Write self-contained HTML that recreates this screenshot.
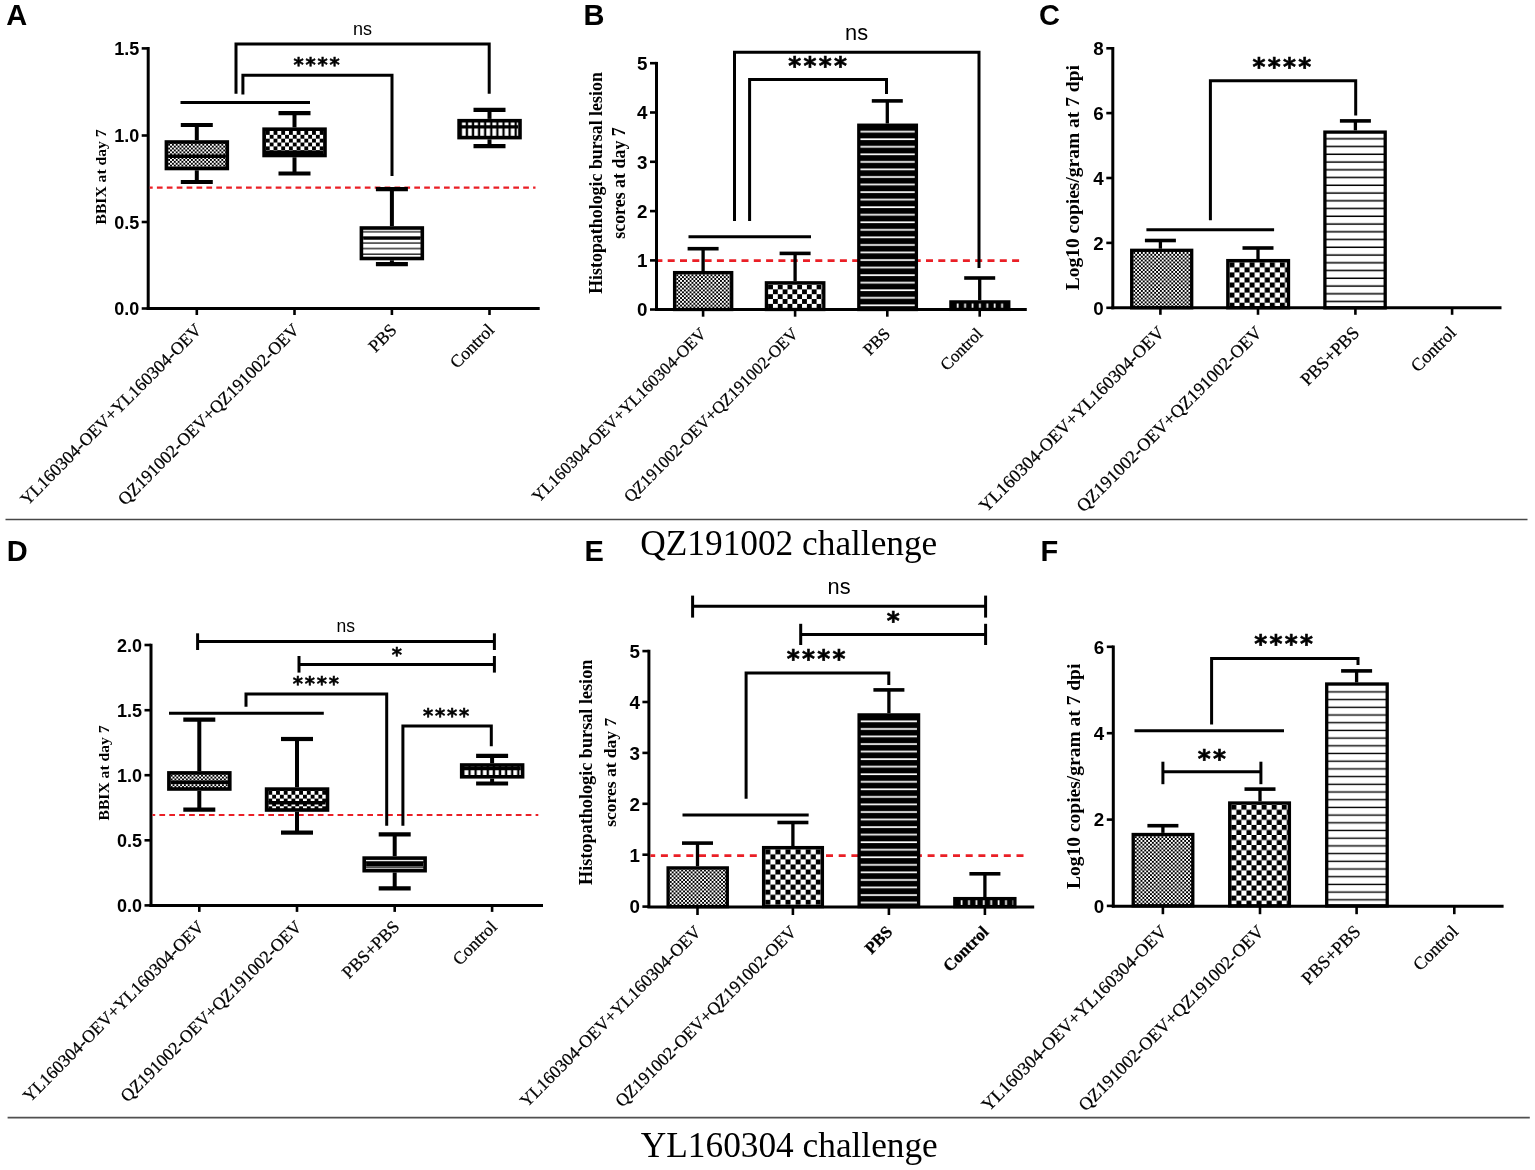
<!DOCTYPE html>
<html><head><meta charset="utf-8"><title>Figure</title>
<style>
html,body{margin:0;padding:0;background:#fff;}
body{width:1535px;height:1170px;overflow:hidden;}
svg{display:block;}
</style></head>
<body>
<svg width="1535" height="1170" viewBox="0 0 1535 1170" shape-rendering="geometricPrecision">
<rect width="1535" height="1170" fill="#fff"/>
<defs>
<pattern id="p1" width="3.8" height="3.8" patternUnits="userSpaceOnUse" patternTransform="translate(168.15,143.80)"><rect width="3.8" height="3.8" fill="#fff"/><rect x="0" y="0" width="1.9" height="1.9" fill="#000"/><rect x="1.9" y="1.9" width="1.9" height="1.9" fill="#000"/></pattern>
<pattern id="p2" width="7.7" height="7.7" patternUnits="userSpaceOnUse" patternTransform="translate(265.85,131.00)"><rect width="7.7" height="7.7" fill="#fff"/><rect x="0" y="0" width="3.85" height="3.85" fill="#000"/><rect x="3.85" y="3.85" width="3.85" height="3.85" fill="#000"/></pattern>
<pattern id="p3" width="20" height="5.6" patternUnits="userSpaceOnUse" patternTransform="translate(363.25,229.80)"><rect width="20" height="5.6" fill="#fff"/><rect x="0" y="1.40" width="20" height="1.2" fill="#000"/></pattern>
<pattern id="p4" width="6.1" height="200" patternUnits="userSpaceOnUse" patternTransform="translate(460.85,122.50)"><rect width="6.1" height="200" fill="#000"/><rect x="1.10" y="0" width="3.8" height="200" fill="#fff"/></pattern>
<pattern id="p5" width="3.8" height="3.8" patternUnits="userSpaceOnUse" patternTransform="translate(676.30,274.30)"><rect width="3.8" height="3.8" fill="#fff"/><rect x="0" y="0" width="1.9" height="1.9" fill="#000"/><rect x="1.9" y="1.9" width="1.9" height="1.9" fill="#000"/></pattern>
<pattern id="p6" width="9.7" height="9.7" patternUnits="userSpaceOnUse" patternTransform="translate(768.10,284.50)"><rect width="9.7" height="9.7" fill="#fff"/><rect x="0" y="0" width="4.85" height="4.85" fill="#000"/><rect x="4.85" y="4.85" width="4.85" height="4.85" fill="#000"/></pattern>
<pattern id="p7" width="20" height="7.55" patternUnits="userSpaceOnUse" patternTransform="translate(860.40,126.80)"><rect width="20" height="7.55" fill="#000"/><rect x="0" y="4.05" width="20" height="1.7" fill="#fff"/></pattern>
<pattern id="p8" width="7.4" height="200" patternUnits="userSpaceOnUse" patternTransform="translate(952.50,303.60)"><rect width="7.4" height="200" fill="#000"/><rect x="4.35" y="0" width="1.7" height="200" fill="#fff"/></pattern>
<pattern id="p9" width="3.8" height="3.8" patternUnits="userSpaceOnUse" patternTransform="translate(1133.30,252.00)"><rect width="3.8" height="3.8" fill="#fff"/><rect x="0" y="0" width="1.9" height="1.9" fill="#000"/><rect x="1.9" y="1.9" width="1.9" height="1.9" fill="#000"/></pattern>
<pattern id="p10" width="10.1" height="10.1" patternUnits="userSpaceOnUse" patternTransform="translate(1229.40,262.30)"><rect width="10.1" height="10.1" fill="#fff"/><rect x="0" y="0" width="5.05" height="5.05" fill="#000"/><rect x="5.05" y="5.05" width="5.05" height="5.05" fill="#000"/></pattern>
<pattern id="p11" width="20" height="7.75" patternUnits="userSpaceOnUse" patternTransform="translate(1326.50,133.70)"><rect width="20" height="7.75" fill="#fff"/><rect x="0" y="4.35" width="20" height="1.5" fill="#000"/></pattern>
<pattern id="p12" width="3.8" height="3.8" patternUnits="userSpaceOnUse" patternTransform="translate(170.65,774.70)"><rect width="3.8" height="3.8" fill="#fff"/><rect x="0" y="0" width="1.9" height="1.9" fill="#000"/><rect x="1.9" y="1.9" width="1.9" height="1.9" fill="#000"/></pattern>
<pattern id="p13" width="7.7" height="7.7" patternUnits="userSpaceOnUse" patternTransform="translate(268.35,790.90)"><rect width="7.7" height="7.7" fill="#fff"/><rect x="0" y="0" width="3.85" height="3.85" fill="#000"/><rect x="3.85" y="3.85" width="3.85" height="3.85" fill="#000"/></pattern>
<pattern id="p14" width="20" height="5.6" patternUnits="userSpaceOnUse" patternTransform="translate(366.05,859.90)"><rect width="20" height="5.6" fill="#fff"/><rect x="0" y="1.40" width="20" height="1.2" fill="#000"/></pattern>
<pattern id="p15" width="6.1" height="200" patternUnits="userSpaceOnUse" patternTransform="translate(463.45,766.80)"><rect width="6.1" height="200" fill="#000"/><rect x="1.10" y="0" width="3.8" height="200" fill="#fff"/></pattern>
<pattern id="p16" width="3.8" height="3.8" patternUnits="userSpaceOnUse" patternTransform="translate(669.80,869.60)"><rect width="3.8" height="3.8" fill="#fff"/><rect x="0" y="0" width="1.9" height="1.9" fill="#000"/><rect x="1.9" y="1.9" width="1.9" height="1.9" fill="#000"/></pattern>
<pattern id="p17" width="10.1" height="10.1" patternUnits="userSpaceOnUse" patternTransform="translate(765.30,849.30)"><rect width="10.1" height="10.1" fill="#fff"/><rect x="0" y="0" width="5.05" height="5.05" fill="#000"/><rect x="5.05" y="5.05" width="5.05" height="5.05" fill="#000"/></pattern>
<pattern id="p18" width="20" height="7.55" patternUnits="userSpaceOnUse" patternTransform="translate(860.80,716.50)"><rect width="20" height="7.55" fill="#000"/><rect x="0" y="4.05" width="20" height="1.7" fill="#fff"/></pattern>
<pattern id="p19" width="7.4" height="200" patternUnits="userSpaceOnUse" patternTransform="translate(956.40,900.30)"><rect width="7.4" height="200" fill="#000"/><rect x="4.35" y="0" width="1.7" height="200" fill="#fff"/></pattern>
<pattern id="p20" width="3.8" height="3.8" patternUnits="userSpaceOnUse" patternTransform="translate(1134.80,836.20)"><rect width="3.8" height="3.8" fill="#fff"/><rect x="0" y="0" width="1.9" height="1.9" fill="#000"/><rect x="1.9" y="1.9" width="1.9" height="1.9" fill="#000"/></pattern>
<pattern id="p21" width="10.1" height="10.1" patternUnits="userSpaceOnUse" patternTransform="translate(1231.30,804.70)"><rect width="10.1" height="10.1" fill="#fff"/><rect x="0" y="0" width="5.05" height="5.05" fill="#000"/><rect x="5.05" y="5.05" width="5.05" height="5.05" fill="#000"/></pattern>
<pattern id="p22" width="20" height="7.7" patternUnits="userSpaceOnUse" patternTransform="translate(1328.30,685.70)"><rect width="20" height="7.7" fill="#fff"/><rect x="0" y="5.50" width="20" height="1.4" fill="#000"/></pattern>
</defs>
<text x="6.3" y="24.8" font-family="'Liberation Sans', Arial, Helvetica, sans-serif" font-size="29" font-weight="bold" text-anchor="start" >A</text>
<line x1="148.2" y1="47.1" x2="148.2" y2="310.0" stroke="#000" stroke-width="3.0" />
<line x1="141.7" y1="48.4" x2="148.2" y2="48.4" stroke="#000" stroke-width="2.6" />
<text x="139.2" y="55.0" font-family="'Liberation Sans', Arial, Helvetica, sans-serif" font-size="18.0" font-weight="bold" text-anchor="end" >1.5</text>
<line x1="141.7" y1="135.5" x2="148.2" y2="135.5" stroke="#000" stroke-width="2.6" />
<text x="139.2" y="142.1" font-family="'Liberation Sans', Arial, Helvetica, sans-serif" font-size="18.0" font-weight="bold" text-anchor="end" >1.0</text>
<line x1="141.7" y1="222.0" x2="148.2" y2="222.0" stroke="#000" stroke-width="2.6" />
<text x="139.2" y="228.6" font-family="'Liberation Sans', Arial, Helvetica, sans-serif" font-size="18.0" font-weight="bold" text-anchor="end" >0.5</text>
<line x1="141.7" y1="308.5" x2="148.2" y2="308.5" stroke="#000" stroke-width="2.6" />
<text x="139.2" y="315.1" font-family="'Liberation Sans', Arial, Helvetica, sans-serif" font-size="18.0" font-weight="bold" text-anchor="end" >0.0</text>
<line x1="149.7" y1="187.7" x2="535.5" y2="187.7" stroke="#ea1f26" stroke-width="2.3" stroke-dasharray="5.7 4.2" stroke-dashoffset="2.70"/>
<line x1="196.8" y1="125.0" x2="196.8" y2="140.2" stroke="#000" stroke-width="4.0" />
<line x1="196.8" y1="170.3" x2="196.8" y2="182.0" stroke="#000" stroke-width="4.0" />
<line x1="180.8" y1="125.0" x2="212.8" y2="125.0" stroke="#000" stroke-width="4.2" />
<line x1="180.8" y1="182.0" x2="212.8" y2="182.0" stroke="#000" stroke-width="4.2" />
<rect x="166.4" y="142.0" width="60.9" height="26.5" fill="url(#p1)" stroke="#000" stroke-width="3.6"/>
<line x1="168.2" y1="156.2" x2="225.5" y2="156.2" stroke="#000" stroke-width="3.4" />
<line x1="294.5" y1="113.2" x2="294.5" y2="127.4" stroke="#000" stroke-width="4.0" />
<line x1="294.5" y1="157.3" x2="294.5" y2="173.5" stroke="#000" stroke-width="4.0" />
<line x1="278.5" y1="113.2" x2="310.5" y2="113.2" stroke="#000" stroke-width="4.2" />
<line x1="278.5" y1="173.5" x2="310.5" y2="173.5" stroke="#000" stroke-width="4.2" />
<rect x="264.1" y="129.2" width="60.9" height="26.3" fill="url(#p2)" stroke="#000" stroke-width="3.6"/>
<line x1="265.9" y1="152.3" x2="323.1" y2="152.3" stroke="#000" stroke-width="3.4" />
<line x1="391.9" y1="189.2" x2="391.9" y2="226.2" stroke="#000" stroke-width="4.0" />
<line x1="391.9" y1="260.3" x2="391.9" y2="264.2" stroke="#000" stroke-width="4.0" />
<line x1="375.9" y1="189.2" x2="407.9" y2="189.2" stroke="#000" stroke-width="4.2" />
<line x1="375.9" y1="264.2" x2="407.9" y2="264.2" stroke="#000" stroke-width="4.2" />
<rect x="361.4" y="228.0" width="60.9" height="30.5" fill="url(#p3)" stroke="#000" stroke-width="3.6"/>
<line x1="363.2" y1="238.1" x2="420.5" y2="238.1" stroke="#000" stroke-width="3.4" />
<line x1="489.5" y1="109.9" x2="489.5" y2="118.9" stroke="#000" stroke-width="4.0" />
<line x1="489.5" y1="139.4" x2="489.5" y2="146.1" stroke="#000" stroke-width="4.0" />
<line x1="473.5" y1="109.9" x2="505.5" y2="109.9" stroke="#000" stroke-width="4.2" />
<line x1="473.5" y1="146.1" x2="505.5" y2="146.1" stroke="#000" stroke-width="4.2" />
<rect x="459.1" y="120.7" width="60.9" height="16.9" fill="url(#p4)" stroke="#000" stroke-width="3.6"/>
<line x1="460.9" y1="126.9" x2="518.1" y2="126.9" stroke="#000" stroke-width="3.4" />
<line x1="146.7" y1="308.5" x2="539.7" y2="308.5" stroke="#000" stroke-width="3.0" />
<line x1="196.8" y1="308.5" x2="196.8" y2="315.0" stroke="#000" stroke-width="2.6" />
<line x1="294.5" y1="308.5" x2="294.5" y2="315.0" stroke="#000" stroke-width="2.6" />
<line x1="391.9" y1="308.5" x2="391.9" y2="315.0" stroke="#000" stroke-width="2.6" />
<line x1="489.5" y1="308.5" x2="489.5" y2="315.0" stroke="#000" stroke-width="2.6" />
<text transform="translate(106.0,177.0) rotate(-90)" x="0" y="0" font-family="'Liberation Serif', 'Times New Roman', Times, serif" font-size="15.6" font-weight="bold" text-anchor="middle">BBIX at day 7</text>
<text transform="translate(202.6,331.0) rotate(-45)" x="0" y="0" font-family="'Liberation Serif', 'Times New Roman', Times, serif" font-size="17.7" font-weight="normal" text-anchor="end" stroke="#000" stroke-width="0.25">YL160304-OEV+YL160304-OEV</text>
<text transform="translate(300.3,331.0) rotate(-45)" x="0" y="0" font-family="'Liberation Serif', 'Times New Roman', Times, serif" font-size="17.7" font-weight="normal" text-anchor="end" stroke="#000" stroke-width="0.25">QZ191002-OEV+QZ191002-OEV</text>
<text transform="translate(397.7,331.0) rotate(-45)" x="0" y="0" font-family="'Liberation Serif', 'Times New Roman', Times, serif" font-size="17.7" font-weight="normal" text-anchor="end" stroke="#000" stroke-width="0.25">PBS</text>
<text transform="translate(495.3,331.0) rotate(-45)" x="0" y="0" font-family="'Liberation Serif', 'Times New Roman', Times, serif" font-size="17.7" font-weight="normal" text-anchor="end" stroke="#000" stroke-width="0.25">Control</text>
<line x1="180.5" y1="102.6" x2="310.0" y2="102.6" stroke="#000" stroke-width="3.0" />
<polyline points="236.0,93.7 236.0,44.1 489.2,44.1 489.2,93.7" fill="none" stroke="#000" stroke-width="3.0" stroke-linejoin="miter"/>
<polyline points="242.9,94.5 242.9,75.2 392.0,75.2 392.0,176.0" fill="none" stroke="#000" stroke-width="3.0" stroke-linejoin="miter"/>
<text x="362.6" y="34.6" font-family="'Liberation Sans', Arial, Helvetica, sans-serif" font-size="18" font-weight="normal" text-anchor="middle" >ns</text>
<text x="317.5" y="70.7" font-family="'DejaVu Sans', sans-serif" font-size="19.5" font-weight="bold" text-anchor="middle" letter-spacing="1.8" stroke="#000" stroke-width="0.50">****</text>
<text x="583.6" y="24.9" font-family="'Liberation Sans', Arial, Helvetica, sans-serif" font-size="29" font-weight="bold" text-anchor="start" >B</text>
<line x1="656.5" y1="61.9" x2="656.5" y2="311.0" stroke="#000" stroke-width="3.0" />
<line x1="650.0" y1="63.2" x2="656.5" y2="63.2" stroke="#000" stroke-width="2.6" />
<text x="647.5" y="70.0" font-family="'Liberation Sans', Arial, Helvetica, sans-serif" font-size="18.8" font-weight="bold" text-anchor="end" >5</text>
<line x1="650.0" y1="112.5" x2="656.5" y2="112.5" stroke="#000" stroke-width="2.6" />
<text x="647.5" y="119.3" font-family="'Liberation Sans', Arial, Helvetica, sans-serif" font-size="18.8" font-weight="bold" text-anchor="end" >4</text>
<line x1="650.0" y1="161.8" x2="656.5" y2="161.8" stroke="#000" stroke-width="2.6" />
<text x="647.5" y="168.6" font-family="'Liberation Sans', Arial, Helvetica, sans-serif" font-size="18.8" font-weight="bold" text-anchor="end" >3</text>
<line x1="650.0" y1="211.1" x2="656.5" y2="211.1" stroke="#000" stroke-width="2.6" />
<text x="647.5" y="217.9" font-family="'Liberation Sans', Arial, Helvetica, sans-serif" font-size="18.8" font-weight="bold" text-anchor="end" >2</text>
<line x1="650.0" y1="260.4" x2="656.5" y2="260.4" stroke="#000" stroke-width="2.6" />
<text x="647.5" y="267.2" font-family="'Liberation Sans', Arial, Helvetica, sans-serif" font-size="18.8" font-weight="bold" text-anchor="end" >1</text>
<line x1="650.0" y1="309.5" x2="656.5" y2="309.5" stroke="#000" stroke-width="2.6" />
<text x="647.5" y="316.3" font-family="'Liberation Sans', Arial, Helvetica, sans-serif" font-size="18.8" font-weight="bold" text-anchor="end" >0</text>
<line x1="658.0" y1="260.6" x2="1019.7" y2="260.6" stroke="#ea1f26" stroke-width="2.8" stroke-dasharray="7 5.3" stroke-dashoffset="2.60"/>
<line x1="703.1" y1="248.7" x2="703.1" y2="271.0" stroke="#000" stroke-width="3.3" />
<line x1="687.6" y1="248.7" x2="718.6" y2="248.7" stroke="#000" stroke-width="3.6" />
<rect x="674.6" y="272.6" width="57.1" height="36.9" fill="url(#p5)" stroke="#000" stroke-width="3.3"/>
<line x1="795.1" y1="253.4" x2="795.1" y2="281.2" stroke="#000" stroke-width="3.3" />
<line x1="779.6" y1="253.4" x2="810.6" y2="253.4" stroke="#000" stroke-width="3.6" />
<rect x="766.4" y="282.8" width="57.4" height="26.7" fill="url(#p6)" stroke="#000" stroke-width="3.3"/>
<line x1="887.3" y1="100.9" x2="887.3" y2="123.5" stroke="#000" stroke-width="3.3" />
<line x1="871.8" y1="100.9" x2="902.8" y2="100.9" stroke="#000" stroke-width="3.6" />
<rect x="858.8" y="125.2" width="57.6" height="184.3" fill="url(#p7)" stroke="#000" stroke-width="3.3"/>
<line x1="979.7" y1="278.0" x2="979.7" y2="300.3" stroke="#000" stroke-width="3.3" />
<line x1="964.2" y1="278.0" x2="995.2" y2="278.0" stroke="#000" stroke-width="3.6" />
<rect x="950.9" y="301.9" width="57.9" height="7.5" fill="url(#p8)" stroke="#000" stroke-width="3.3"/>
<line x1="655.0" y1="309.5" x2="1026.8" y2="309.5" stroke="#000" stroke-width="3.0" />
<line x1="703.1" y1="309.5" x2="703.1" y2="316.7" stroke="#000" stroke-width="2.6" />
<line x1="795.1" y1="309.5" x2="795.1" y2="316.7" stroke="#000" stroke-width="2.6" />
<line x1="887.3" y1="309.5" x2="887.3" y2="316.7" stroke="#000" stroke-width="2.6" />
<line x1="979.7" y1="309.5" x2="979.7" y2="316.7" stroke="#000" stroke-width="2.6" />
<text transform="translate(601.5,183.0) rotate(-90)" x="0" y="0" font-family="'Liberation Serif', 'Times New Roman', Times, serif" font-size="17.9" font-weight="bold" text-anchor="middle">Histopathologic bursal lesion</text>
<text transform="translate(624.7,183.0) rotate(-90)" x="0" y="0" font-family="'Liberation Serif', 'Times New Roman', Times, serif" font-size="17.9" font-weight="bold" text-anchor="middle">scores at day 7</text>
<text transform="translate(707.1,334.8) rotate(-45)" x="0" y="0" font-family="'Liberation Serif', 'Times New Roman', Times, serif" font-size="17.0" font-weight="normal" text-anchor="end" stroke="#000" stroke-width="0.25">YL160304-OEV+YL160304-OEV</text>
<text transform="translate(799.1,334.8) rotate(-45)" x="0" y="0" font-family="'Liberation Serif', 'Times New Roman', Times, serif" font-size="17.0" font-weight="normal" text-anchor="end" stroke="#000" stroke-width="0.25">QZ191002-OEV+QZ191002-OEV</text>
<text transform="translate(891.3,334.8) rotate(-45)" x="0" y="0" font-family="'Liberation Serif', 'Times New Roman', Times, serif" font-size="17.0" font-weight="normal" text-anchor="end" stroke="#000" stroke-width="0.25">PBS</text>
<text transform="translate(983.7,334.8) rotate(-45)" x="0" y="0" font-family="'Liberation Serif', 'Times New Roman', Times, serif" font-size="17.0" font-weight="normal" text-anchor="end" stroke="#000" stroke-width="0.25">Control</text>
<line x1="688.5" y1="236.8" x2="811.0" y2="236.8" stroke="#000" stroke-width="3.0" />
<polyline points="734.5,221.0 734.5,52.2 979.0,52.2 979.0,268.0" fill="none" stroke="#000" stroke-width="3.0" stroke-linejoin="miter"/>
<polyline points="749.6,221.0 749.6,79.6 886.5,79.6 886.5,94.0" fill="none" stroke="#000" stroke-width="3.0" stroke-linejoin="miter"/>
<text x="856.6" y="39.6" font-family="'Liberation Sans', Arial, Helvetica, sans-serif" font-size="21.8" font-weight="normal" text-anchor="middle" >ns</text>
<text x="818.7" y="74.4" font-family="'DejaVu Sans', sans-serif" font-size="24.7" font-weight="bold" text-anchor="middle" letter-spacing="2.35" stroke="#000" stroke-width="0.63">****</text>
<text x="1039.0" y="24.8" font-family="'Liberation Sans', Arial, Helvetica, sans-serif" font-size="29" font-weight="bold" text-anchor="start" >C</text>
<line x1="1112.8" y1="47.0" x2="1112.8" y2="309.3" stroke="#000" stroke-width="3.0" />
<line x1="1106.3" y1="48.3" x2="1112.8" y2="48.3" stroke="#000" stroke-width="2.6" />
<text x="1103.8" y="55.1" font-family="'Liberation Sans', Arial, Helvetica, sans-serif" font-size="18.8" font-weight="bold" text-anchor="end" >8</text>
<line x1="1106.3" y1="113.1" x2="1112.8" y2="113.1" stroke="#000" stroke-width="2.6" />
<text x="1103.8" y="119.9" font-family="'Liberation Sans', Arial, Helvetica, sans-serif" font-size="18.8" font-weight="bold" text-anchor="end" >6</text>
<line x1="1106.3" y1="178.0" x2="1112.8" y2="178.0" stroke="#000" stroke-width="2.6" />
<text x="1103.8" y="184.8" font-family="'Liberation Sans', Arial, Helvetica, sans-serif" font-size="18.8" font-weight="bold" text-anchor="end" >4</text>
<line x1="1106.3" y1="242.9" x2="1112.8" y2="242.9" stroke="#000" stroke-width="2.6" />
<text x="1103.8" y="249.7" font-family="'Liberation Sans', Arial, Helvetica, sans-serif" font-size="18.8" font-weight="bold" text-anchor="end" >2</text>
<line x1="1106.3" y1="307.8" x2="1112.8" y2="307.8" stroke="#000" stroke-width="2.6" />
<text x="1103.8" y="314.6" font-family="'Liberation Sans', Arial, Helvetica, sans-serif" font-size="18.8" font-weight="bold" text-anchor="end" >0</text>
<line x1="1160.4" y1="240.5" x2="1160.4" y2="248.7" stroke="#000" stroke-width="3.3" />
<line x1="1144.9" y1="240.5" x2="1175.9" y2="240.5" stroke="#000" stroke-width="3.6" />
<rect x="1131.7" y="250.3" width="60.0" height="57.5" fill="url(#p9)" stroke="#000" stroke-width="3.3"/>
<line x1="1258.0" y1="248.0" x2="1258.0" y2="259.0" stroke="#000" stroke-width="3.3" />
<line x1="1242.5" y1="248.0" x2="1273.5" y2="248.0" stroke="#000" stroke-width="3.6" />
<rect x="1227.8" y="260.6" width="60.7" height="47.2" fill="url(#p10)" stroke="#000" stroke-width="3.3"/>
<line x1="1355.4" y1="120.9" x2="1355.4" y2="130.4" stroke="#000" stroke-width="3.3" />
<line x1="1339.9" y1="120.9" x2="1370.9" y2="120.9" stroke="#000" stroke-width="3.6" />
<rect x="1324.9" y="132.1" width="60.3" height="175.8" fill="url(#p11)" stroke="#000" stroke-width="3.3"/>
<line x1="1111.3" y1="307.8" x2="1501.5" y2="307.8" stroke="#000" stroke-width="3.0" />
<line x1="1160.4" y1="307.8" x2="1160.4" y2="314.8" stroke="#000" stroke-width="2.6" />
<line x1="1258.0" y1="307.8" x2="1258.0" y2="314.8" stroke="#000" stroke-width="2.6" />
<line x1="1355.4" y1="307.8" x2="1355.4" y2="314.8" stroke="#000" stroke-width="2.6" />
<line x1="1452.1" y1="307.8" x2="1452.1" y2="314.8" stroke="#000" stroke-width="2.6" />
<text transform="translate(1078.8,177.7) rotate(-90)" x="0" y="0" font-family="'Liberation Serif', 'Times New Roman', Times, serif" font-size="19.5" font-weight="bold" text-anchor="middle">Log10 copies/gram at 7 dpi</text>
<text transform="translate(1165.4,333.8) rotate(-45)" x="0" y="0" font-family="'Liberation Serif', 'Times New Roman', Times, serif" font-size="18.1" font-weight="normal" text-anchor="end" stroke="#000" stroke-width="0.25">YL160304-OEV+YL160304-OEV</text>
<text transform="translate(1263.0,333.8) rotate(-45)" x="0" y="0" font-family="'Liberation Serif', 'Times New Roman', Times, serif" font-size="18.1" font-weight="normal" text-anchor="end" stroke="#000" stroke-width="0.25">QZ191002-OEV+QZ191002-OEV</text>
<text transform="translate(1360.4,333.8) rotate(-45)" x="0" y="0" font-family="'Liberation Serif', 'Times New Roman', Times, serif" font-size="18.1" font-weight="normal" text-anchor="end" stroke="#000" stroke-width="0.25">PBS+PBS</text>
<text transform="translate(1457.1,333.8) rotate(-45)" x="0" y="0" font-family="'Liberation Serif', 'Times New Roman', Times, serif" font-size="18.1" font-weight="normal" text-anchor="end" stroke="#000" stroke-width="0.25">Control</text>
<line x1="1146.4" y1="229.7" x2="1274.1" y2="229.7" stroke="#000" stroke-width="3.0" />
<polyline points="1210.4,220.3 1210.4,80.8 1355.7,80.8 1355.7,115.4" fill="none" stroke="#000" stroke-width="3.0" stroke-linejoin="miter"/>
<text x="1282.9" y="75.0" font-family="'DejaVu Sans', sans-serif" font-size="24.7" font-weight="bold" text-anchor="middle" letter-spacing="2.35" stroke="#000" stroke-width="0.63">****</text>
<line x1="5.5" y1="519.5" x2="1527.5" y2="519.5" stroke="#474747" stroke-width="1.7" />
<text x="640.3" y="554.5" font-family="'Liberation Serif', 'Times New Roman', Times, serif" font-size="35.3" font-weight="normal" text-anchor="start" >QZ191002 challenge</text>
<text x="6.7" y="561.2" font-family="'Liberation Sans', Arial, Helvetica, sans-serif" font-size="29" font-weight="bold" text-anchor="start" >D</text>
<line x1="151.0" y1="643.7" x2="151.0" y2="906.9" stroke="#000" stroke-width="3.0" />
<line x1="144.5" y1="645.0" x2="151.0" y2="645.0" stroke="#000" stroke-width="2.6" />
<text x="142.0" y="651.6" font-family="'Liberation Sans', Arial, Helvetica, sans-serif" font-size="18.0" font-weight="bold" text-anchor="end" >2.0</text>
<line x1="144.5" y1="710.2" x2="151.0" y2="710.2" stroke="#000" stroke-width="2.6" />
<text x="142.0" y="716.8" font-family="'Liberation Sans', Arial, Helvetica, sans-serif" font-size="18.0" font-weight="bold" text-anchor="end" >1.5</text>
<line x1="144.5" y1="775.2" x2="151.0" y2="775.2" stroke="#000" stroke-width="2.6" />
<text x="142.0" y="781.8" font-family="'Liberation Sans', Arial, Helvetica, sans-serif" font-size="18.0" font-weight="bold" text-anchor="end" >1.0</text>
<line x1="144.5" y1="840.3" x2="151.0" y2="840.3" stroke="#000" stroke-width="2.6" />
<text x="142.0" y="846.9" font-family="'Liberation Sans', Arial, Helvetica, sans-serif" font-size="18.0" font-weight="bold" text-anchor="end" >0.5</text>
<line x1="144.5" y1="905.4" x2="151.0" y2="905.4" stroke="#000" stroke-width="2.6" />
<text x="142.0" y="912.0" font-family="'Liberation Sans', Arial, Helvetica, sans-serif" font-size="18.0" font-weight="bold" text-anchor="end" >0.0</text>
<line x1="152.5" y1="815.0" x2="538.3" y2="815.0" stroke="#ea1f26" stroke-width="2.0" stroke-dasharray="5.7 4.2" stroke-dashoffset="3.00"/>
<line x1="199.3" y1="719.7" x2="199.3" y2="771.1" stroke="#000" stroke-width="4.0" />
<line x1="199.3" y1="790.8" x2="199.3" y2="809.6" stroke="#000" stroke-width="4.0" />
<line x1="183.3" y1="719.7" x2="215.3" y2="719.7" stroke="#000" stroke-width="4.2" />
<line x1="183.3" y1="809.6" x2="215.3" y2="809.6" stroke="#000" stroke-width="4.2" />
<rect x="168.9" y="772.9" width="60.9" height="16.1" fill="url(#p12)" stroke="#000" stroke-width="3.6"/>
<line x1="170.7" y1="782.2" x2="228.0" y2="782.2" stroke="#000" stroke-width="3.4" />
<line x1="297.0" y1="739.0" x2="297.0" y2="787.3" stroke="#000" stroke-width="4.0" />
<line x1="297.0" y1="811.8" x2="297.0" y2="832.6" stroke="#000" stroke-width="4.0" />
<line x1="281.0" y1="739.0" x2="313.0" y2="739.0" stroke="#000" stroke-width="4.2" />
<line x1="281.0" y1="832.6" x2="313.0" y2="832.6" stroke="#000" stroke-width="4.2" />
<rect x="266.6" y="789.1" width="60.9" height="20.9" fill="url(#p13)" stroke="#000" stroke-width="3.6"/>
<line x1="268.4" y1="802.7" x2="325.6" y2="802.7" stroke="#000" stroke-width="3.4" />
<line x1="394.7" y1="834.3" x2="394.7" y2="856.3" stroke="#000" stroke-width="4.0" />
<line x1="394.7" y1="872.5" x2="394.7" y2="888.4" stroke="#000" stroke-width="4.0" />
<line x1="378.7" y1="834.3" x2="410.7" y2="834.3" stroke="#000" stroke-width="4.2" />
<line x1="378.7" y1="888.4" x2="410.7" y2="888.4" stroke="#000" stroke-width="4.2" />
<rect x="364.2" y="858.1" width="60.9" height="12.6" fill="url(#p14)" stroke="#000" stroke-width="3.6"/>
<line x1="366.1" y1="864.0" x2="423.3" y2="864.0" stroke="#000" stroke-width="5.0" />
<line x1="492.1" y1="755.9" x2="492.1" y2="763.2" stroke="#000" stroke-width="4.0" />
<line x1="492.1" y1="778.6" x2="492.1" y2="783.5" stroke="#000" stroke-width="4.0" />
<line x1="476.1" y1="755.9" x2="508.1" y2="755.9" stroke="#000" stroke-width="4.2" />
<line x1="476.1" y1="783.5" x2="508.1" y2="783.5" stroke="#000" stroke-width="4.2" />
<rect x="461.7" y="765.0" width="60.9" height="11.8" fill="url(#p15)" stroke="#000" stroke-width="3.6"/>
<line x1="463.5" y1="768.5" x2="520.8" y2="768.5" stroke="#000" stroke-width="3.4" />
<line x1="149.5" y1="905.4" x2="543.0" y2="905.4" stroke="#000" stroke-width="3.0" />
<line x1="199.3" y1="905.4" x2="199.3" y2="911.9" stroke="#000" stroke-width="2.6" />
<line x1="297.0" y1="905.4" x2="297.0" y2="911.9" stroke="#000" stroke-width="2.6" />
<line x1="394.7" y1="905.4" x2="394.7" y2="911.9" stroke="#000" stroke-width="2.6" />
<line x1="492.1" y1="905.4" x2="492.1" y2="911.9" stroke="#000" stroke-width="2.6" />
<text transform="translate(109.0,773.0) rotate(-90)" x="0" y="0" font-family="'Liberation Serif', 'Times New Roman', Times, serif" font-size="15.6" font-weight="bold" text-anchor="middle">BBIX at day 7</text>
<text transform="translate(205.1,927.9) rotate(-45)" x="0" y="0" font-family="'Liberation Serif', 'Times New Roman', Times, serif" font-size="17.7" font-weight="normal" text-anchor="end" stroke="#000" stroke-width="0.25">YL160304-OEV+YL160304-OEV</text>
<text transform="translate(302.8,927.9) rotate(-45)" x="0" y="0" font-family="'Liberation Serif', 'Times New Roman', Times, serif" font-size="17.7" font-weight="normal" text-anchor="end" stroke="#000" stroke-width="0.25">QZ191002-OEV+QZ191002-OEV</text>
<text transform="translate(400.5,927.9) rotate(-45)" x="0" y="0" font-family="'Liberation Serif', 'Times New Roman', Times, serif" font-size="17.7" font-weight="normal" text-anchor="end" stroke="#000" stroke-width="0.25">PBS+PBS</text>
<text transform="translate(497.9,927.9) rotate(-45)" x="0" y="0" font-family="'Liberation Serif', 'Times New Roman', Times, serif" font-size="17.7" font-weight="normal" text-anchor="end" stroke="#000" stroke-width="0.25">Control</text>
<line x1="169.0" y1="713.3" x2="323.8" y2="713.3" stroke="#000" stroke-width="3.0" />
<line x1="197.6" y1="641.5" x2="494.4" y2="641.5" stroke="#000" stroke-width="3.0" />
<line x1="197.6" y1="633.3" x2="197.6" y2="650.0" stroke="#000" stroke-width="3.0" />
<line x1="494.4" y1="633.3" x2="494.4" y2="650.0" stroke="#000" stroke-width="3.0" />
<text x="345.8" y="632.1" font-family="'Liberation Sans', Arial, Helvetica, sans-serif" font-size="17.5" font-weight="normal" text-anchor="middle" >ns</text>
<line x1="299.0" y1="664.6" x2="494.4" y2="664.6" stroke="#000" stroke-width="3.0" />
<line x1="299.0" y1="656.0" x2="299.0" y2="672.6" stroke="#000" stroke-width="3.0" />
<line x1="494.4" y1="656.0" x2="494.4" y2="672.6" stroke="#000" stroke-width="3.0" />
<text x="397.7" y="660.5" font-family="'DejaVu Sans', sans-serif" font-size="19.5" font-weight="bold" text-anchor="middle" letter-spacing="1.8" stroke="#000" stroke-width="0.50">*</text>
<polyline points="246.0,706.8 246.0,694.0 386.7,694.0 386.7,825.8" fill="none" stroke="#000" stroke-width="3.0" stroke-linejoin="miter"/>
<text x="316.7" y="690.2" font-family="'DejaVu Sans', sans-serif" font-size="19.5" font-weight="bold" text-anchor="middle" letter-spacing="1.8" stroke="#000" stroke-width="0.50">****</text>
<polyline points="402.9,825.8 402.9,726.0 491.3,726.0 491.3,746.2" fill="none" stroke="#000" stroke-width="3.0" stroke-linejoin="miter"/>
<text x="447.1" y="721.5" font-family="'DejaVu Sans', sans-serif" font-size="19.5" font-weight="bold" text-anchor="middle" letter-spacing="1.8" stroke="#000" stroke-width="0.50">****</text>
<text x="584.5" y="561.0" font-family="'Liberation Sans', Arial, Helvetica, sans-serif" font-size="29" font-weight="bold" text-anchor="start" >E</text>
<line x1="648.9" y1="649.8" x2="648.9" y2="908.1" stroke="#000" stroke-width="3.0" />
<line x1="642.4" y1="651.1" x2="648.9" y2="651.1" stroke="#000" stroke-width="2.6" />
<text x="639.9" y="657.9" font-family="'Liberation Sans', Arial, Helvetica, sans-serif" font-size="18.8" font-weight="bold" text-anchor="end" >5</text>
<line x1="642.4" y1="702.0" x2="648.9" y2="702.0" stroke="#000" stroke-width="2.6" />
<text x="639.9" y="708.8" font-family="'Liberation Sans', Arial, Helvetica, sans-serif" font-size="18.8" font-weight="bold" text-anchor="end" >4</text>
<line x1="642.4" y1="752.9" x2="648.9" y2="752.9" stroke="#000" stroke-width="2.6" />
<text x="639.9" y="759.7" font-family="'Liberation Sans', Arial, Helvetica, sans-serif" font-size="18.8" font-weight="bold" text-anchor="end" >3</text>
<line x1="642.4" y1="803.8" x2="648.9" y2="803.8" stroke="#000" stroke-width="2.6" />
<text x="639.9" y="810.6" font-family="'Liberation Sans', Arial, Helvetica, sans-serif" font-size="18.8" font-weight="bold" text-anchor="end" >2</text>
<line x1="642.4" y1="854.7" x2="648.9" y2="854.7" stroke="#000" stroke-width="2.6" />
<text x="639.9" y="861.5" font-family="'Liberation Sans', Arial, Helvetica, sans-serif" font-size="18.8" font-weight="bold" text-anchor="end" >1</text>
<line x1="642.4" y1="906.6" x2="648.9" y2="906.6" stroke="#000" stroke-width="2.6" />
<text x="639.9" y="913.4" font-family="'Liberation Sans', Arial, Helvetica, sans-serif" font-size="18.8" font-weight="bold" text-anchor="end" >0</text>
<line x1="650.4" y1="855.6" x2="1027.0" y2="855.6" stroke="#ea1f26" stroke-width="2.6" stroke-dasharray="7 5.7" stroke-dashoffset="2.20"/>
<line x1="697.5" y1="843.1" x2="697.5" y2="866.3" stroke="#000" stroke-width="3.3" />
<line x1="682.0" y1="843.1" x2="713.0" y2="843.1" stroke="#000" stroke-width="3.6" />
<rect x="668.1" y="867.9" width="59.2" height="38.7" fill="url(#p16)" stroke="#000" stroke-width="3.3"/>
<line x1="792.9" y1="822.5" x2="792.9" y2="846.0" stroke="#000" stroke-width="3.3" />
<line x1="777.4" y1="822.5" x2="808.4" y2="822.5" stroke="#000" stroke-width="3.6" />
<rect x="763.6" y="847.6" width="58.8" height="59.0" fill="url(#p17)" stroke="#000" stroke-width="3.3"/>
<line x1="888.9" y1="689.9" x2="888.9" y2="713.2" stroke="#000" stroke-width="3.3" />
<line x1="873.4" y1="689.9" x2="904.4" y2="689.9" stroke="#000" stroke-width="3.6" />
<rect x="859.1" y="714.9" width="59.5" height="191.7" fill="url(#p18)" stroke="#000" stroke-width="3.3"/>
<line x1="984.9" y1="873.8" x2="984.9" y2="897.0" stroke="#000" stroke-width="3.3" />
<line x1="969.4" y1="873.8" x2="1000.4" y2="873.8" stroke="#000" stroke-width="3.6" />
<rect x="954.8" y="898.6" width="60.1" height="8.0" fill="url(#p19)" stroke="#000" stroke-width="3.3"/>
<line x1="647.4" y1="907.0" x2="1034.2" y2="907.0" stroke="#000" stroke-width="3.0" />
<line x1="697.5" y1="907.0" x2="697.5" y2="915.0" stroke="#000" stroke-width="2.6" />
<line x1="792.9" y1="907.0" x2="792.9" y2="915.0" stroke="#000" stroke-width="2.6" />
<line x1="888.9" y1="907.0" x2="888.9" y2="915.0" stroke="#000" stroke-width="2.6" />
<line x1="984.9" y1="907.0" x2="984.9" y2="915.0" stroke="#000" stroke-width="2.6" />
<text transform="translate(591.6,772.3) rotate(-90)" x="0" y="0" font-family="'Liberation Serif', 'Times New Roman', Times, serif" font-size="18.2" font-weight="bold" text-anchor="middle">Histopathologic bursal lesion</text>
<text transform="translate(615.6,772.3) rotate(-90)" x="0" y="0" font-family="'Liberation Serif', 'Times New Roman', Times, serif" font-size="17.5" font-weight="bold" text-anchor="middle">scores at day 7</text>
<text transform="translate(702.1,932.9) rotate(-45)" x="0" y="0" font-family="'Liberation Serif', 'Times New Roman', Times, serif" font-size="17.7" font-weight="normal" text-anchor="end" stroke="#000" stroke-width="0.25">YL160304-OEV+YL160304-OEV</text>
<text transform="translate(797.5,932.9) rotate(-45)" x="0" y="0" font-family="'Liberation Serif', 'Times New Roman', Times, serif" font-size="17.7" font-weight="normal" text-anchor="end" stroke="#000" stroke-width="0.25">QZ191002-OEV+QZ191002-OEV</text>
<text transform="translate(893.5,932.9) rotate(-45)" x="0" y="0" font-family="'Liberation Serif', 'Times New Roman', Times, serif" font-size="17.0" font-weight="bold" text-anchor="end" stroke="#000" stroke-width="0.25">PBS</text>
<text transform="translate(989.5,932.9) rotate(-45)" x="0" y="0" font-family="'Liberation Serif', 'Times New Roman', Times, serif" font-size="17.0" font-weight="bold" text-anchor="end" stroke="#000" stroke-width="0.25">Control</text>
<line x1="682.5" y1="815.0" x2="808.7" y2="815.0" stroke="#000" stroke-width="3.0" />
<line x1="692.6" y1="606.3" x2="985.6" y2="606.3" stroke="#000" stroke-width="3.0" />
<line x1="692.6" y1="595.6" x2="692.6" y2="617.6" stroke="#000" stroke-width="3.0" />
<line x1="985.6" y1="595.6" x2="985.6" y2="617.6" stroke="#000" stroke-width="3.0" />
<text x="839.1" y="593.6" font-family="'Liberation Sans', Arial, Helvetica, sans-serif" font-size="21.8" font-weight="normal" text-anchor="middle" >ns</text>
<line x1="800.7" y1="634.5" x2="985.6" y2="634.5" stroke="#000" stroke-width="3.0" />
<line x1="800.7" y1="623.8" x2="800.7" y2="645.0" stroke="#000" stroke-width="3.0" />
<line x1="985.6" y1="623.8" x2="985.6" y2="645.0" stroke="#000" stroke-width="3.0" />
<text x="894.3" y="629.0" font-family="'DejaVu Sans', sans-serif" font-size="24.7" font-weight="bold" text-anchor="middle" letter-spacing="2.35" stroke="#000" stroke-width="0.63">*</text>
<polyline points="746.1,798.7 746.1,673.0 888.8,673.0 888.8,685.0" fill="none" stroke="#000" stroke-width="3.0" stroke-linejoin="miter"/>
<text x="817.2" y="666.7" font-family="'DejaVu Sans', sans-serif" font-size="24.7" font-weight="bold" text-anchor="middle" letter-spacing="2.35" stroke="#000" stroke-width="0.63">****</text>
<text x="1040.5" y="561.0" font-family="'Liberation Sans', Arial, Helvetica, sans-serif" font-size="29" font-weight="bold" text-anchor="start" >F</text>
<line x1="1113.3" y1="645.5" x2="1113.3" y2="907.4" stroke="#000" stroke-width="3.0" />
<line x1="1106.8" y1="646.8" x2="1113.3" y2="646.8" stroke="#000" stroke-width="2.6" />
<text x="1104.3" y="653.6" font-family="'Liberation Sans', Arial, Helvetica, sans-serif" font-size="18.8" font-weight="bold" text-anchor="end" >6</text>
<line x1="1106.8" y1="733.2" x2="1113.3" y2="733.2" stroke="#000" stroke-width="2.6" />
<text x="1104.3" y="740.0" font-family="'Liberation Sans', Arial, Helvetica, sans-serif" font-size="18.8" font-weight="bold" text-anchor="end" >4</text>
<line x1="1106.8" y1="819.6" x2="1113.3" y2="819.6" stroke="#000" stroke-width="2.6" />
<text x="1104.3" y="826.4" font-family="'Liberation Sans', Arial, Helvetica, sans-serif" font-size="18.8" font-weight="bold" text-anchor="end" >2</text>
<line x1="1106.8" y1="905.9" x2="1113.3" y2="905.9" stroke="#000" stroke-width="2.6" />
<text x="1104.3" y="912.7" font-family="'Liberation Sans', Arial, Helvetica, sans-serif" font-size="18.8" font-weight="bold" text-anchor="end" >0</text>
<line x1="1162.9" y1="825.7" x2="1162.9" y2="832.9" stroke="#000" stroke-width="3.3" />
<line x1="1147.4" y1="825.7" x2="1178.4" y2="825.7" stroke="#000" stroke-width="3.6" />
<rect x="1133.2" y="834.5" width="59.6" height="71.3" fill="url(#p20)" stroke="#000" stroke-width="3.3"/>
<line x1="1260.0" y1="789.1" x2="1260.0" y2="801.4" stroke="#000" stroke-width="3.3" />
<line x1="1244.5" y1="789.1" x2="1275.5" y2="789.1" stroke="#000" stroke-width="3.6" />
<rect x="1229.7" y="803.0" width="59.7" height="102.8" fill="url(#p21)" stroke="#000" stroke-width="3.3"/>
<line x1="1356.6" y1="670.9" x2="1356.6" y2="682.4" stroke="#000" stroke-width="3.3" />
<line x1="1341.1" y1="670.9" x2="1372.1" y2="670.9" stroke="#000" stroke-width="3.6" />
<rect x="1326.7" y="684.0" width="60.5" height="221.8" fill="url(#p22)" stroke="#000" stroke-width="3.3"/>
<line x1="1111.8" y1="906.2" x2="1503.6" y2="906.2" stroke="#000" stroke-width="3.0" />
<line x1="1162.9" y1="906.2" x2="1162.9" y2="914.2" stroke="#000" stroke-width="2.6" />
<line x1="1260.0" y1="906.2" x2="1260.0" y2="914.2" stroke="#000" stroke-width="2.6" />
<line x1="1356.6" y1="906.2" x2="1356.6" y2="914.2" stroke="#000" stroke-width="2.6" />
<line x1="1454.3" y1="906.2" x2="1454.3" y2="914.2" stroke="#000" stroke-width="2.6" />
<text transform="translate(1080.0,776.3) rotate(-90)" x="0" y="0" font-family="'Liberation Serif', 'Times New Roman', Times, serif" font-size="19.5" font-weight="bold" text-anchor="middle">Log10 copies/gram at 7 dpi</text>
<text transform="translate(1167.9,932.7) rotate(-45)" x="0" y="0" font-family="'Liberation Serif', 'Times New Roman', Times, serif" font-size="18.1" font-weight="normal" text-anchor="end" stroke="#000" stroke-width="0.25">YL160304-OEV+YL160304-OEV</text>
<text transform="translate(1265.0,932.7) rotate(-45)" x="0" y="0" font-family="'Liberation Serif', 'Times New Roman', Times, serif" font-size="18.1" font-weight="normal" text-anchor="end" stroke="#000" stroke-width="0.25">QZ191002-OEV+QZ191002-OEV</text>
<text transform="translate(1361.6,932.7) rotate(-45)" x="0" y="0" font-family="'Liberation Serif', 'Times New Roman', Times, serif" font-size="18.1" font-weight="normal" text-anchor="end" stroke="#000" stroke-width="0.25">PBS+PBS</text>
<text transform="translate(1459.3,932.7) rotate(-45)" x="0" y="0" font-family="'Liberation Serif', 'Times New Roman', Times, serif" font-size="18.1" font-weight="normal" text-anchor="end" stroke="#000" stroke-width="0.25">Control</text>
<line x1="1134.5" y1="730.7" x2="1284.0" y2="730.7" stroke="#000" stroke-width="3.0" />
<polyline points="1211.6,724.5 1211.6,658.4 1358.0,658.4 1358.0,665.1" fill="none" stroke="#000" stroke-width="3.0" stroke-linejoin="miter"/>
<text x="1284.7" y="652.1" font-family="'DejaVu Sans', sans-serif" font-size="24.7" font-weight="bold" text-anchor="middle" letter-spacing="2.35" stroke="#000" stroke-width="0.63">****</text>
<line x1="1162.9" y1="771.8" x2="1260.9" y2="771.8" stroke="#000" stroke-width="3.0" />
<line x1="1162.9" y1="761.7" x2="1162.9" y2="784.2" stroke="#000" stroke-width="3.0" />
<line x1="1260.9" y1="761.7" x2="1260.9" y2="784.2" stroke="#000" stroke-width="3.0" />
<text x="1212.9" y="766.8" font-family="'DejaVu Sans', sans-serif" font-size="24.7" font-weight="bold" text-anchor="middle" letter-spacing="2.35" stroke="#000" stroke-width="0.63">**</text>
<line x1="7.6" y1="1117.7" x2="1529.8" y2="1117.7" stroke="#505050" stroke-width="1.7" />
<text x="640.8" y="1157.4" font-family="'Liberation Serif', 'Times New Roman', Times, serif" font-size="35.3" font-weight="normal" text-anchor="start" >YL160304 challenge</text>
</svg>
</body></html>
